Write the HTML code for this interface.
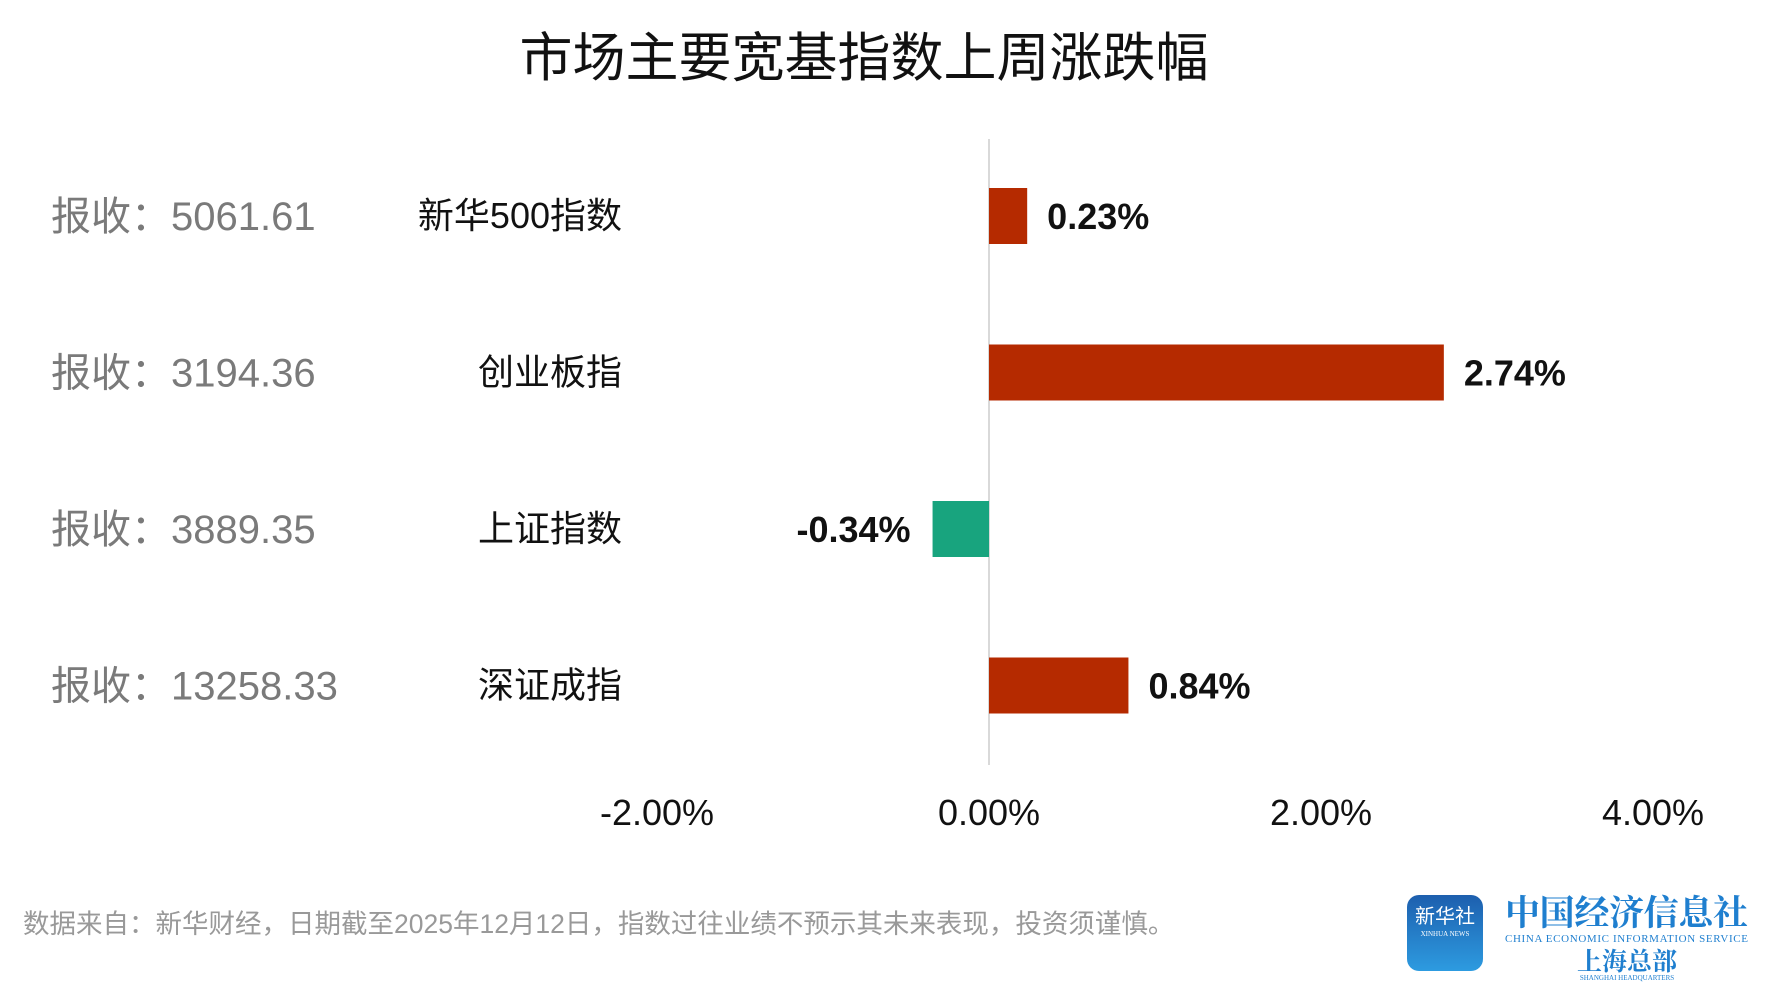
<!DOCTYPE html>
<html><head><meta charset="utf-8"><style>
html,body{margin:0;padding:0;background:#fff;}
body{width:1781px;height:1003px;position:relative;overflow:hidden;font-family:"Liberation Sans","Noto Sans CJK SC",sans-serif;}
</style></head><body>
<svg width="1781" height="1003" xmlns="http://www.w3.org/2000/svg">
<text x="864" y="76" text-anchor="middle" font-size="53" fill="#111" font-family="Liberation Sans, Noto Sans CJK SC, sans-serif">市场主要宽基指数上周涨跌幅</text>
<line x1="989" y1="139" x2="989" y2="765" stroke="#d9d9d9" stroke-width="2"/>
<text x="23" y="933" font-size="26.5" fill="#999" font-family="Liberation Sans, Noto Sans CJK SC, sans-serif">数据来自：新华财经，日期截至2025年12月12日，指数过往业绩不预示其未来表现，投资须谨慎。</text>
<g>
<defs><linearGradient id="lg" x1="0" y1="0" x2="0" y2="1"><stop offset="0" stop-color="#1d5fae"/><stop offset="1" stop-color="#2d9be0"/></linearGradient></defs>
<rect x="1407" y="895" width="76" height="76" rx="12" fill="url(#lg)"/>
<text x="1445" y="923" text-anchor="middle" font-size="20" fill="#fff" font-family="Noto Sans CJK SC, sans-serif">新华社</text>
<text x="1445" y="936" text-anchor="middle" font-size="7" fill="#fff" font-family="Liberation Serif, serif">XINHUA NEWS</text>
<text x="1505" y="925" font-size="35" fill="#1f7fcf" font-weight="bold" font-family="Noto Serif CJK SC, serif" textLength="243">中国经济信息社</text>
<text x="1505" y="942" font-size="11" fill="#1f7fcf" font-family="Liberation Serif, serif" textLength="243">CHINA ECONOMIC INFORMATION SERVICE</text>
<text x="1627" y="970" text-anchor="middle" font-size="25" fill="#1f7fcf" font-weight="bold" font-family="Noto Serif CJK SC, serif">上海总部</text>
<text x="1627" y="980" text-anchor="middle" font-size="7" fill="#1f7fcf" font-family="Liberation Serif, serif">SHANGHAI HEADQUARTERS</text>
</g>
</svg>
<script>
const categories=["新华500指数","创业板指","上证指数","深证成指"];
const closes=["5061.61","3194.36","3889.35","13258.33"];
const changes=[0.23,2.74,-0.34,0.84];
const ticks=[-2,0,2,4];
const tickLabels=["-2.00%","0.00%","2.00%","4.00%"];
const NS="http://www.w3.org/2000/svg";
const svg=document.querySelector('svg');
function xs(v){return 989+v*166;}
function yc(i){return 216+i*156.5;}
function mk(tag,attrs,txt){const e=document.createElementNS(NS,tag);for(const k in attrs)e.setAttribute(k,attrs[k]);if(txt!==undefined)e.textContent=txt;svg.appendChild(e);return e;}
const F="Liberation Sans, Noto Sans CJK SC, sans-serif";
categories.forEach((c,i)=>{
  const v=changes[i],y=yc(i),x0=xs(0),x1=xs(v);
  const r=mk('rect',{x:Math.min(x0,x1),y:y-28,width:Math.abs(x1-x0),height:56,fill:v>=0?'#b52a00':'#18a47e'});
  
  
  const t=mk('text',{x:v>=0?x1+20:x1-22,y:y+13,'text-anchor':v>=0?'start':'end','font-size':36,'font-weight':'bold',fill:'#111','font-family':F},v.toFixed(2)+'%');
  
  
  const cl=mk('text',{x:622,y:y+12,'text-anchor':'end','font-size':36,fill:'#111','font-family':F},c);
  
  
  const cc=mk('text',{x:51,y:y+14,'font-size':40,fill:'#7a7a7a','font-family':F},'报收：'+closes[i]);
  
  
});
ticks.forEach((t,i)=>{
  const e=mk('text',{x:xs(t),y:825,'text-anchor':'middle','font-size':36,fill:'#111','font-family':F},tickLabels[i]);
  
  
});
</script>
</body></html>
